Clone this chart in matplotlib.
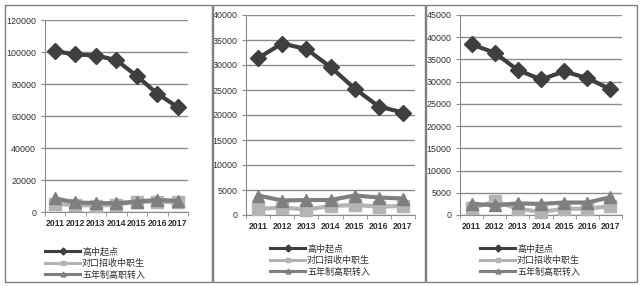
import matplotlib
matplotlib.use("Agg")
import matplotlib.pyplot as plt
from matplotlib.patches import Rectangle
from matplotlib.lines import Line2D

plt.rcParams['font.family'] = ['Noto Sans CJK SC', 'DejaVu Sans']

years = ['2011', '2012', '2013', '2014', '2015', '2016', '2017']
series_names = ['高中起点', '对口招收中职生', '五年制高职转入']

p1_gaozhong = [100500, 98500, 97800, 95000, 85000, 74000, 65500]
p1_duikou = [5000, 4500, 4000, 4500, 6500, 6500, 6000]
p1_wunian = [8500, 6000, 5500, 5500, 6500, 7500, 7000]

p2_gaozhong = [31400, 34300, 33200, 29600, 25300, 21700, 20500]
p2_duikou = [1200, 1500, 1100, 1800, 2000, 1700, 1800]
p2_wunian = [3900, 2900, 3000, 3000, 3900, 3500, 3300]

p3_gaozhong = [38400, 36500, 32600, 30500, 32300, 30800, 28300]
p3_duikou = [1500, 3100, 1400, 700, 1400, 1400, 2000]
p3_wunian = [2500, 2200, 2600, 2500, 2800, 2800, 4000]

panels = [
    dict(data=[p1_gaozhong, p1_duikou, p1_wunian], ymax=120000, step=20000,
         ax=(44.5, 20, 188, 212), box=(4.5, 4.5, 212, 282), leg=(45, 247)),
    dict(data=[p2_gaozhong, p2_duikou, p2_wunian], ymax=40000, step=5000,
         ax=(246, 15, 415, 215), box=(213, 4.5, 425, 282), leg=(270, 244)),
    dict(data=[p3_gaozhong, p3_duikou, p3_wunian], ymax=45000, step=5000,
         ax=(460, 15, 622, 215), box=(426, 4.5, 637, 282), leg=(480, 244)),
]

W, H = 640, 286
fig = plt.figure(figsize=(W / 100, H / 100), dpi=100)

colors = ['#3f3f3f', '#b4b4b4', '#7f7f7f']
markers = ['D', 's', '^']
msizes = [8.5, 8, 8.5]

for p in panels:
    x0, y0, x1, y1 = p['box']
    fig.patches.append(Rectangle((x0 / W, 1 - y1 / H), (x1 - x0) / W, (y1 - y0) / H,
                                 transform=fig.transFigure, fill=False,
                                 edgecolor='#7f7f7f', linewidth=1.0))
    l, t, r, b = p['ax']
    ax = fig.add_axes([l / W, 1 - b / H, (r - l) / W, (b - t) / H])
    xs = list(range(len(years)))
    for idx in [1, 2, 0]:
        ax.plot(xs, p['data'][idx], color=colors[idx], marker=markers[idx],
                markersize=msizes[idx], linewidth=3.0, zorder=3 + (idx == 0),
                clip_on=False)
    ax.set_xlim(-0.5, len(years) - 0.5)
    ax.set_ylim(0, p['ymax'])
    ax.set_yticks(range(0, p['ymax'] + 1, p['step']))
    ax.yaxis.grid(True, color='#8c8c8c', linewidth=1.0)
    ax.set_axisbelow(True)
    ax.set_xticks(xs)
    ax.set_xticklabels(years)
    ax.set_xticks([i - 0.5 for i in range(len(years) + 1)], minor=True)
    ax.tick_params(axis='x', which='major', length=0, pad=5)
    ax.tick_params(axis='x', which='minor', length=3, color='#8c8c8c', direction='out')
    ax.tick_params(axis='y', length=3, color='#8c8c8c', pad=3)
    for lab in ax.get_xticklabels():
        lab.set_fontfamily(['Liberation Sans'])
        lab.set_fontweight('bold')
        lab.set_fontsize(6.3)
        lab.set_color('#303030')
    for lab in ax.get_yticklabels():
        lab.set_fontfamily(['Liberation Sans'])
        lab.set_fontsize(6.4)
        lab.set_color('#303030')
    for s in ['top', 'right']:
        ax.spines[s].set_visible(False)
    ax.spines['left'].set_color('#8c8c8c')
    ax.spines['bottom'].set_color('#8c8c8c')
    ax.patch.set_alpha(0)

    handles = [Line2D([], [], color=colors[i], marker=markers[i], markersize=3.5,
                      linewidth=2.2) for i in range(3)]
    lx, ly = p['leg']
    fig.legend(handles, series_names, loc='upper left',
               bbox_to_anchor=(lx / W, 1 - ly / H), frameon=False,
               fontsize=6.5, handlelength=3.9, handletextpad=0.2,
               labelspacing=0.28, borderaxespad=0, borderpad=0,
               labelcolor='#303030')

fig.savefig('out.png', dpi=100)
